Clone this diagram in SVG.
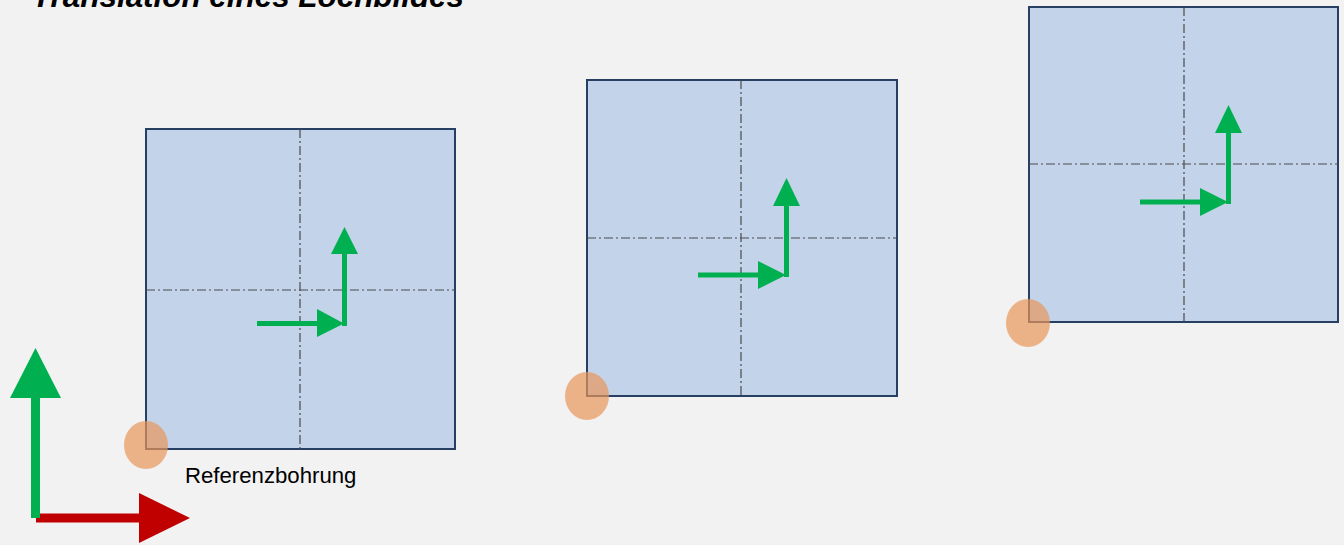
<svg xmlns="http://www.w3.org/2000/svg" width="1344" height="545" viewBox="0 0 1344 545">
<style>
.sq{fill:#C3D4EA;stroke:#263F62;stroke-width:2}
.cl{stroke:#4A4A4A;stroke-width:1.2;stroke-dasharray:9 3 2 3;fill:none}
.ga{stroke:#00B050;stroke-width:5;fill:none}
.gh{fill:#00B050}
.hole{fill:#E8955A;fill-opacity:0.7}
.title{font-family:"Liberation Sans",Arial,sans-serif;font-weight:bold;font-style:italic;font-size:31.4px;fill:#000}
.lbl{font-family:"Liberation Sans",Arial,sans-serif;font-size:22.2px;fill:#000}
</style>
<rect width="1344" height="545" fill="#F2F2F2"/>
<text class="title" x="32" y="7">Translation eines Lochbildes</text>

<g id="square1">
<rect class="sq" x="146" y="129" width="309" height="320"/>
<line class="cl" x1="300" y1="129" x2="300" y2="449"/>
<line class="cl" x1="146" y1="290" x2="455" y2="290"/>
<line class="ga" x1="257" y1="323.5" x2="322" y2="323.5"/>
<polygon class="gh" points="317,309 344,323.5 317,337"/>
<line class="ga" x1="344.5" y1="326" x2="344.5" y2="250"/>
<polygon class="gh" points="331,254 344.5,227 358,254"/>
<ellipse class="hole" cx="146" cy="445" rx="22" ry="24"/>
</g>

<g id="square2">
<rect class="sq" x="587" y="80" width="310" height="316"/>
<line class="cl" x1="741" y1="80" x2="741" y2="396"/>
<line class="cl" x1="587" y1="238" x2="897" y2="238"/>
<line class="ga" x1="698" y1="275" x2="762" y2="275"/>
<polygon class="gh" points="758,261 786,275 758,289"/>
<line class="ga" x1="786.5" y1="277" x2="786.5" y2="202"/>
<polygon class="gh" points="773,206 786.5,178 800,206"/>
<ellipse class="hole" cx="587" cy="396" rx="22" ry="24"/>
</g>

<g id="square3">
<rect class="sq" x="1029" y="7" width="309" height="315"/>
<line class="cl" x1="1184" y1="7" x2="1184" y2="322"/>
<line class="cl" x1="1029" y1="164" x2="1338" y2="164"/>
<line class="ga" x1="1140" y1="202" x2="1204" y2="202"/>
<polygon class="gh" points="1200,188 1228,202 1200,216"/>
<line class="ga" x1="1228.5" y1="204" x2="1228.5" y2="129"/>
<polygon class="gh" points="1215,133 1228.5,105 1242,133"/>
<ellipse class="hole" cx="1028" cy="323" rx="22" ry="24"/>
</g>

<g id="label">
<text class="lbl" x="185" y="483">Referenzbohrung</text>
</g>

<g id="axes">
<line x1="36" y1="518" x2="141" y2="518" stroke="#C00000" stroke-width="9"/>
<polygon points="139,493 190,518 139,543" fill="#C00000"/>
<line x1="35.5" y1="518" x2="35.5" y2="395" stroke="#00B050" stroke-width="9"/>
<polygon points="10,398 35.5,348 61,398" fill="#00B050"/>
</g>
</svg>
